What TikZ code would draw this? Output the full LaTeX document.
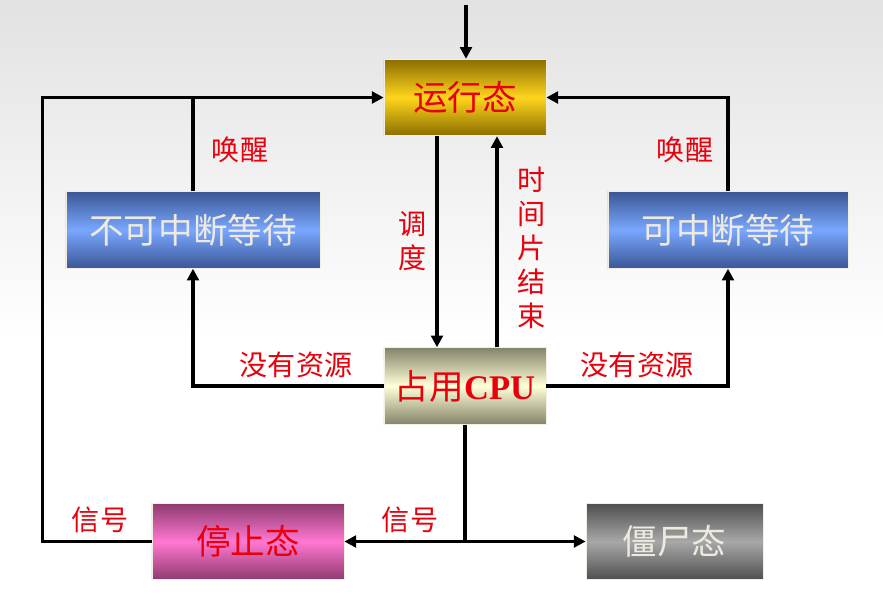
\documentclass[tikz,border=0pt]{standalone}
\usepackage{fontspec}
\setmainfont{Liberation Serif}
\newfontfamily\cjk{Noto Sans CJK SC}
\usepackage{xcolor}
\definecolor{BgTop}{HTML}{E2E2E2}
\definecolor{GoldEdge}{HTML}{8A6E00}
\definecolor{GoldMid}{HTML}{FFD51C}
\definecolor{BlueEdge}{HTML}{3B5795}
\definecolor{BlueMid}{HTML}{79A7FF}
\definecolor{CpuEdge}{HTML}{84846A}
\definecolor{CpuMid}{HTML}{FFFFD8}
\definecolor{PinkEdge}{HTML}{8C3A6E}
\definecolor{PinkMid}{HTML}{FF78D2}
\definecolor{GrayEdge}{HTML}{4E4E4E}
\definecolor{GrayMid}{HTML}{A8A8A8}
\definecolor{BoxLine}{HTML}{F2EEE4}
\definecolor{LabelRed}{HTML}{E8000C}
\definecolor{PaleText}{HTML}{EEEAE0}
\usepackage{tikz}
\usetikzlibrary{arrows.meta}

\begin{document}
\begin{tikzpicture}[x=0.03cm, y=-0.03cm, >={Triangle[length=10pt,width=10pt]}, line width=2.6pt,
  state/.style={draw=BoxLine, line width=0.6pt, minimum height=2.3cm, inner sep=0pt, font=\cjk\fontsize{29.5}{31}\selectfont},
  lbl/.style={text=LabelRed, font=\cjk\fontsize{24}{29}\selectfont, align=center, inner sep=0pt}]
  % background
  \fill[white] (0,0) rectangle (883,611);
  \shade[top color=BgTop, bottom color=white] (0,0) rectangle (883,340);

  % states
  \node[state, minimum width=4.86cm, text=LabelRed, top color=GoldEdge, bottom color=GoldEdge, middle color=GoldMid] (run) at (465,97.5) {运行态};
  \node[state, minimum width=7.62cm, text=PaleText, top color=BlueEdge, bottom color=BlueEdge, middle color=BlueMid] (uwait) at (193,230) {不可中断等待};
  \node[state, minimum width=7.2cm, text=PaleText, top color=BlueEdge, bottom color=BlueEdge, middle color=BlueMid] (iwait) at (728,230) {可中断等待};
  \node[state, minimum width=4.86cm, text=LabelRed, top color=CpuEdge, bottom color=CpuEdge, middle color=CpuMid] (cpu) at (465,386) {占用\textbf{\rmfamily CPU}};
  \node[state, minimum width=5.76cm, text=LabelRed, top color=PinkEdge, bottom color=PinkEdge, middle color=PinkMid] (stop) at (248,541.5) {停止态};
  \node[state, minimum width=5.31cm, text=PaleText, top color=GrayEdge, bottom color=GrayEdge, middle color=GrayMid] (zombie) at (674.5,541.5) {僵尸态};

  % connectors
  \coordinate (in) at (466,5);
  \coordinate (fork) at (465,541.5);
  \draw[->] (in) -- (in |- run.north);
  \draw[->] (stop.west) -- ++(-109,0) |- (run.west);
  \draw (uwait.north) -- (uwait.north |- run.west);
  \draw[->] (iwait.north) |- (run.east);
  \draw[->] ([xshift=-0.84cm]run.south) -- ([xshift=-0.84cm]cpu.north);
  \draw[->] ([xshift=0.96cm]cpu.north) -- ([xshift=0.96cm]run.south);
  \draw[->] (cpu.west) -| (uwait.south);
  \draw[->] (cpu.east) -| (iwait.south);
  \draw (cpu.south) -- (fork);
  \draw[->] (fork) -- (stop.east);
  \draw[->] (fork) -- (zombie.west);

  % labels
  \node[lbl] (wakeL) at (240,150) {唤醒};
  \node[lbl] (wakeR) at (685,150) {唤醒};
  \node[lbl] (sched) at (413,241) {调\\度};
  \node[lbl] (slice) at (532,248) {时\\间\\片\\结\\束};
  \node[lbl] (noresL) at (296,365) {没有资源};
  \node[lbl] (noresR) at (637,365) {没有资源};
  \node[lbl] (sigL) at (100,520) {信号};
  \node[lbl] (sigM) at (410,520) {信号};
\end{tikzpicture}
\end{document}
